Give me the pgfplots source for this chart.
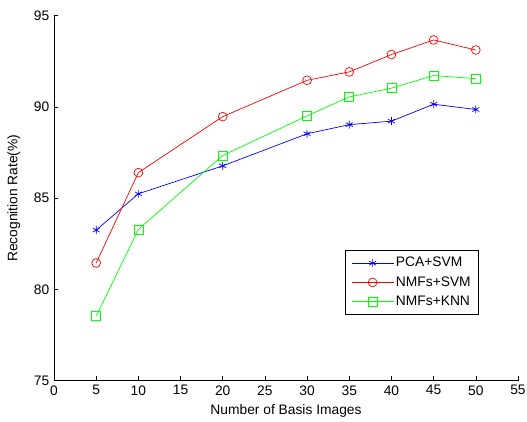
\documentclass[border=0pt]{standalone}
\usepackage{fontspec}
\setmainfont{Liberation Sans}
\usepackage{pgfplots}
\pgfplotsset{compat=1.18}

\begin{document}
\fontsize{13.8}{16}\selectfont
\begin{tikzpicture}
\begin{axis}[
  name=ax,
  scale only axis, width=464pt, height=365pt,
  xmin=0, xmax=55, ymin=75, ymax=95,
  xtick={0,5,...,55}, ytick={75,80,...,95},
  axis x line*=bottom, axis y line*=left,
  hide obscured x ticks=false, hide obscured y ticks=false,
  tick align=inside, major tick length=4.5pt,
  tick style={black, line width=0.6pt},
  axis line style={line width=0.6pt},
  /pgf/number format/assume math mode=true,
  xlabel={Number of Basis Images},
  ylabel={Recognition Rate(\%)},
  xlabel style={at={(axis description cs:0.5,0)}, anchor=north, yshift=-19pt},
  ylabel style={at={(axis description cs:0,0.5)}, anchor=south, rotate=0, yshift=29pt},
  legend cell align=left,
  legend style={at={(0.916,0.181)}, anchor=south east,
    draw=black, line width=0.6pt, fill=white, inner xsep=6pt, inner ysep=5pt,
    row sep=3.5pt,
    nodes={inner sep=2pt}},
  legend image code/.code={
    \draw[#1, mark repeat=2, mark phase=2] plot coordinates {(0pt,0pt) (21pt,0pt) (42pt,0pt)};},
]
\addplot[blue, line width=0.7pt, mark=asterisk, mark size=4pt] coordinates {
  (5,83.25) (10,85.24) (20,86.77) (30,88.53) (35,89.03) (40,89.22) (45,90.15) (50,89.86)};
\addplot[red, line width=0.7pt, mark=o, mark size=4.4pt] coordinates {
  (5,81.45) (10,86.4) (20,89.47) (30,91.46) (35,91.92) (40,92.87) (45,93.67) (50,93.12)};
\addplot[green, line width=0.7pt, mark=square, mark size=4.5pt] coordinates {
  (5,78.53) (10,83.29) (20,87.34) (30,89.51) (35,90.55) (40,91.03) (45,91.72) (50,91.55)};
\legend{PCA+SVM, NMFs+SVM, NMFs+KNN}
\end{axis}
\pgfresetboundingbox
\path ([xshift=-54pt,yshift=-41pt]ax.south west) rectangle ([xshift=9pt,yshift=15.7pt]ax.north east);
\end{tikzpicture}
\end{document}
